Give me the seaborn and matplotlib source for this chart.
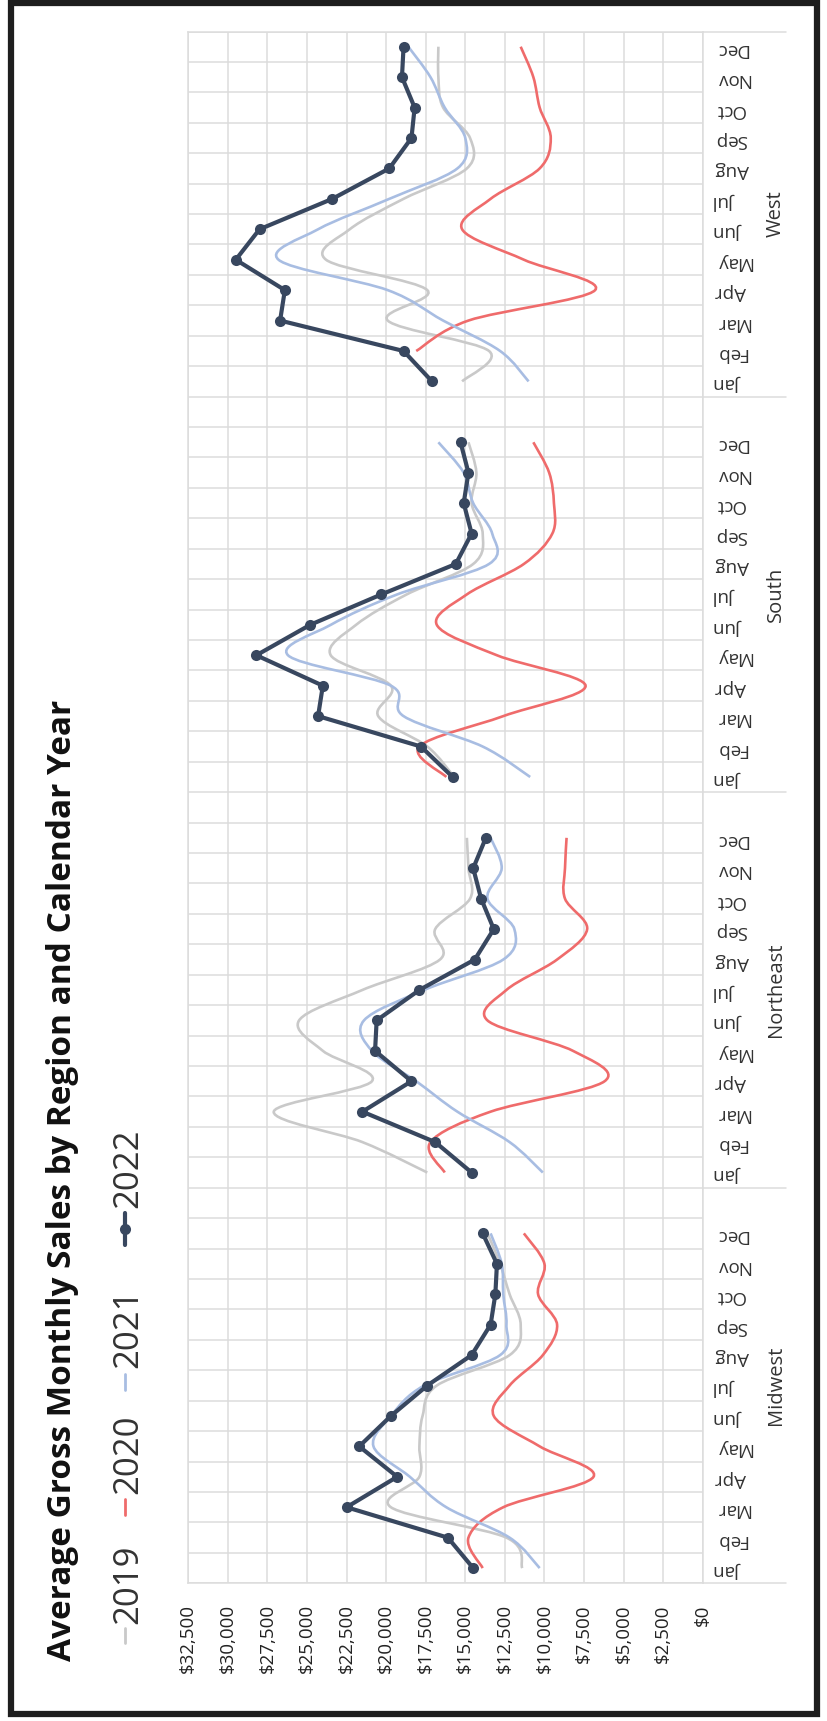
import numpy as np
import pandas as pd
import matplotlib.pyplot as plt
import seaborn as sns
from matplotlib.path import Path
from matplotlib.patches import PathPatch, Rectangle
from matplotlib.lines import Line2D
from matplotlib.ticker import FuncFormatter
import matplotlib.transforms as mtransforms

# Data (average gross monthly sales, Jan..Dec)
months = ['Jan', 'Feb', 'Mar', 'Apr', 'May', 'Jun', 'Jul', 'Aug', 'Sep', 'Oct', 'Nov', 'Dec']
regions = ['Midwest', 'Northeast', 'South', 'West']
years = ['2019', '2020', '2021', '2022']

midwest_2019 = [11400, 12400, 19700, 17900, 17900, 17700, 16800, 12200, 11500, 12200, 12800, 13600]
midwest_2020 = [13900, 14800, 12600, 6900, 10300, 13200, 12200, 10100, 9200, 10400, 10000, 11300]
midwest_2021 = [10300, 12200, 16200, 18500, 20800, 19700, 17600, 12800, 12400, 12600, 12700, 13400]
midwest_2022 = [14500, 16100, 22500, 19300, 21700, 19700, 17400, 14600, 13400, 13100, 13000, 13900]

northeast_2019 = [17400, 21500, 27100, 20900, 24000, 25500, 21500, 16600, 16900, 14700, 14800, 14900]
northeast_2020 = [16300, 17200, 13400, 6200, 8200, 13600, 12400, 9200, 7300, 8700, 8700, 8600]
northeast_2021 = [10100, 12200, 15500, 18100, 20900, 21400, 17600, 12600, 11900, 13600, 12700, 13400]
northeast_2022 = [14600, 16900, 21500, 18400, 20700, 20600, 17900, 14400, 13200, 14000, 14500, 13700]

south_2019 = [15700, 17400, 20500, 19700, 23500, 21900, 18700, 14500, 13900, 14600, 14300, 14800]
south_2020 = [16200, 17900, 12600, 7400, 13000, 16800, 14900, 11300, 9500, 9400, 9700, 10700]
south_2021 = [10900, 13900, 18900, 19700, 26200, 23500, 19300, 13500, 13300, 14500, 15100, 16700]
south_2022 = [15800, 17800, 24300, 24000, 28200, 24800, 20300, 15600, 14600, 15100, 14800, 15300]

west_2019 = [15200, 13500, 19900, 17400, 23800, 22300, 18900, 14900, 14700, 16400, 16700, 16700]
west_2020 = [np.nan, 18100, 14800, 6800, 11300, 15200, 13400, 10300, 9600, 10300, 10700, 11500]
west_2021 = [11000, 12800, 16400, 19900, 26800, 24300, 19800, 15500, 15000, 16300, 17200, 18600]
west_2022 = [17100, 18900, 26700, 26400, 29500, 28000, 23400, 19800, 18400, 18200, 19000, 18900]

series = {
    'Midwest': [midwest_2019, midwest_2020, midwest_2021, midwest_2022],
    'Northeast': [northeast_2019, northeast_2020, northeast_2021, northeast_2022],
    'South': [south_2019, south_2020, south_2021, south_2022],
    'West': [west_2019, west_2020, west_2021, west_2022],
}

colors = {'2019': '#c9c9c9', '2020': '#ef6b6b', '2021': '#a8bde2', '2022': '#38475f'}
grid_col = '#dcdcdc'
font = 'Open Sans'

# long table, one slot per month plus a blank slot between regions
rows = []
for r_i, reg in enumerate(regions):
    for y_i, yr in enumerate(years):
        for m_i, m in enumerate(months):
            rows.append({'Region': reg, 'Year': yr, 'Month': m,
                         'Slot': r_i * 13 + m_i, 'Sales': series[reg][y_i][m_i]})
df = pd.DataFrame(rows)

W, H = 827, 1721
sns.set_theme(style='white')
plt.rcParams['font.family'] = [font, 'DejaVu Sans']
fig = plt.figure(figsize=(W / 100, H / 100), dpi=100)

ax_l, ax_r, ax_t, ax_b = 188.3, 702.7, 31.5, 1583.3
ax = fig.add_axes([ax_l / W, 1 - ax_b / H, (ax_r - ax_l) / W, (ax_b - ax_t) / H])
ax.set_xlim(32500, 0)
ax.set_ylim(-0.5, 50.5)

px_per_x = (ax_r - ax_l) / 32500
px_per_y = (ax_b - ax_t) / 51


def smooth_path(xs, ys):
    # Excel-like smoothed line through the points (cubic Bezier, Catmull-Rom tangents)
    p = np.column_stack([np.asarray(xs) * px_per_x, np.asarray(ys) * px_per_y])
    n = len(p)
    verts = [p[0]]
    codes = [Path.MOVETO]
    for i in range(n - 1):
        p0 = p[i - 1] if i > 0 else p[i]
        p3 = p[i + 2] if i + 2 < n else p[i + 1]
        c1 = p[i] + (p[i + 1] - p0) / 6
        c2 = p[i + 1] - (p3 - p[i]) / 6
        verts += [c1, c2, p[i + 1]]
        codes += [Path.CURVE4] * 3
    v = np.array(verts)
    v[:, 0] /= px_per_x
    v[:, 1] /= px_per_y
    return Path(v, codes)


for yr in ['2019', '2020', '2021']:
    for reg in regions:
        d = df[(df.Region == reg) & (df.Year == yr)].dropna(subset=['Sales'])
        patch = PathPatch(smooth_path(d.Sales.values, d.Slot.values), facecolor='none',
                          edgecolor=colors[yr], lw=1.9, capstyle='butt', zorder=3)
        ax.add_patch(patch)

d22 = df[df.Year == '2022']
sns.lineplot(data=d22, x='Sales', y='Slot', units='Region', estimator=None, sort=False,
             orient='y', color=colors['2022'], lw=3, marker='o', markersize=8,
             markeredgewidth=0, ax=ax, zorder=4)

# grid and axes
ax.set_xticks(np.arange(0, 32501, 2500))
ax.xaxis.set_major_formatter(FuncFormatter(lambda v, p: f'${v:,.0f}'))
ax.set_yticks(df.Slot.unique())
ax.set_yticklabels(months * 4)
ax.set_yticks(np.arange(-0.5, 51, 1), minor=True)
ax.grid(axis='x', which='major', color=grid_col, lw=1.1)
ax.grid(axis='y', which='minor', color=grid_col, lw=1.1)
ax.grid(axis='y', which='major', visible=False)
ax.set_axisbelow(True)
for s in ax.spines.values():
    s.set_color(grid_col)
    s.set_linewidth(1.1)
ax.yaxis.tick_right()
ax.tick_params(axis='x', length=4, color=grid_col, pad=11, labelsize=13.5, labelcolor='#222222',
               labelrotation=90)
ax.tick_params(axis='y', which='both', length=0, pad=9, labelsize=13.5, labelcolor='#333333',
               labelrotation=180)
ax.set_xlabel('')
ax.set_ylabel('')

# region separators and labels
trans = mtransforms.blended_transform_factory(ax.transAxes, ax.transData)
sep_end = (786 - ax_l) / (ax_r - ax_l)
for yv in [-0.5, 12.5, 25.5, 38.5, 50.5]:
    ax.add_line(Line2D([1, sep_end], [yv, yv], transform=trans, color=grid_col, lw=1.1,
                       clip_on=False))
lab_x = (776 - ax_l) / (ax_r - ax_l)
for r_i, reg in enumerate(regions):
    ctr = r_i * 13 + (6 if r_i < 3 else 5.5)
    ax.text(lab_x, ctr, reg, transform=trans, rotation=90, ha='center', va='center',
            fontsize=14.5, color='#333333')


def fx(x):
    return x / W


def fy(y):
    return 1 - y / H


# title
fig.text(fx(63), fy(1661), 'Average Gross Monthly Sales by Region and Calendar Year',
         rotation=90, ha='center', va='bottom', fontsize=24, weight='bold', color='#111111')

# legend (rotated with the chart)
leg = [('2019', 1643, 1628, 1624), ('2020', 1515, 1499, 1494),
       ('2021', 1390, 1374, 1368), ('2022', 1245, 1213, 1208)]
for yr, y0, y1, yt in leg:
    lw = 3 if yr == '2022' else 2
    fig.add_artist(Line2D([fx(125), fx(125)], [fy(y0), fy(y1)], color=colors[yr], lw=lw))
    if yr == '2022':
        fig.add_artist(Line2D([fx(125)], [fy((y0 + y1) / 2)], color=colors[yr], marker='o',
                              markersize=8, markeredgewidth=0))
    fig.text(fx(128), fy(yt), yr, rotation=90, ha='center', va='bottom', fontsize=25,
             color='#333333')

# outer frame
fig.add_artist(Rectangle((fx(11), fy(1714)), (817 - 11) / W, (1714 - 3) / H,
                         transform=fig.transFigure, fill=False, ec='#1e1e1e', lw=4.5))

fig.savefig('out.png', dpi=100)
